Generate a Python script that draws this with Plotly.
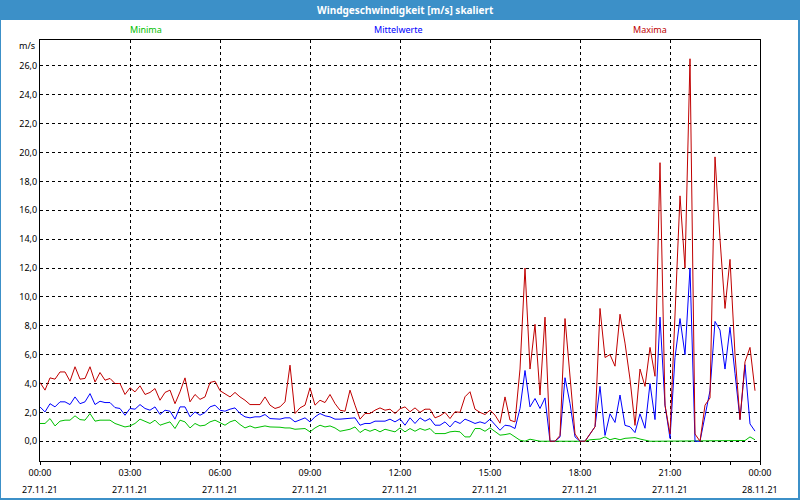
import plotly.graph_objects as go
import pandas as pd

# ---- data (10-minute values, 27.11.21 00:00 .. 23:50) ----
maxima = [
    4.07, 3.54, 4.39, 4.30, 4.80, 4.80, 4.16, 5.16, 4.30, 4.35,
    5.16, 4.10, 4.76, 4.23, 4.35, 4.00, 4.00, 3.24, 3.70, 3.42,
    3.84, 3.24, 3.38, 3.65, 2.84, 3.38, 3.54, 2.60, 3.42, 4.39,
    2.73, 3.24, 2.90, 3.07, 4.07, 4.16, 3.50, 3.30, 3.07, 3.38,
    3.07, 2.84, 2.54, 2.54, 2.54, 3.07, 2.50, 2.27, 2.38, 2.73,
    5.27, 1.92, 2.31, 2.50, 3.70, 2.50, 2.84, 2.68, 3.24, 2.61,
    2.15, 2.08, 3.54, 2.50, 1.53, 1.92, 1.92, 2.15, 2.31, 2.15,
    2.22, 1.92, 2.25, 2.38, 2.04, 2.31, 2.00, 2.22, 2.22, 1.62,
    1.76, 2.00, 1.57, 2.04, 2.00, 3.08, 3.43, 2.22, 2.00, 1.85,
    2.15, 1.81, 1.25, 3.07, 1.46, 1.34, 5.00, 12.0, 5.00, 8.10,
    3.20, 8.60, 0.00, 0.00, 0.40, 8.50, 4.60, 0.50, 0.00, 0.00,
    0.50, 1.00, 9.20, 5.80, 6.00, 5.20, 8.80, 6.80, 4.30, 1.10,
    5.00, 3.80, 6.50, 4.50, 19.3, 2.50, 0.50, 8.50, 17.0, 12.0,
    26.5, 0.50, 0.00, 2.50, 3.00, 19.7, 14.0, 9.20, 12.6, 6.00,
    1.50, 5.50, 6.50, 3.50,
]
mittel = [
    2.38, 2.03, 2.60, 2.38, 2.73, 2.73, 2.54, 3.07, 2.60, 2.73,
    3.30, 2.54, 2.77, 2.68, 2.68, 2.33, 2.27, 1.80, 2.27, 2.22,
    2.54, 2.27, 2.15, 2.38, 1.85, 2.15, 2.08, 1.53, 2.38, 2.38,
    1.69, 2.03, 1.80, 1.99, 2.38, 2.50, 2.15, 2.08, 2.22, 2.31,
    1.92, 1.69, 1.62, 1.69, 1.69, 1.85, 1.57, 1.53, 1.53, 1.62,
    1.62, 1.34, 1.46, 1.62, 1.34, 1.69, 1.92, 1.76, 1.69, 1.53,
    1.53, 1.57, 1.62, 1.62, 1.11, 1.23, 1.23, 1.39, 1.39, 1.39,
    1.53, 1.34, 1.55, 1.11, 1.62, 1.23, 1.62, 1.39, 1.57, 1.11,
    1.11, 1.34, 0.99, 1.39, 1.23, 1.53, 1.39, 1.23, 1.34, 1.23,
    1.53, 1.11, 0.76, 1.11, 1.06, 0.88, 2.27, 4.90, 2.38, 2.96,
    2.27, 3.00, 0.00, 0.00, 0.30, 4.40, 2.62, 0.30, 0.00, 0.00,
    0.50, 1.00, 3.80, 0.40, 1.90, 1.30, 3.20, 1.10, 1.00, 0.60,
    1.90, 0.90, 4.00, 1.50, 8.60, 2.50, 0.20, 5.80, 8.50, 6.00,
    12.0, 0.00, 0.00, 1.70, 3.50, 8.30, 7.70, 5.00, 7.90, 4.70,
    1.50, 5.30, 1.20, 0.70,
]
minima = [
    1.23, 1.23, 1.57, 1.06, 1.39, 1.46, 1.46, 1.76, 1.50, 1.46,
    1.92, 1.39, 1.46, 1.46, 1.46, 1.23, 1.11, 0.99, 1.06, 1.23,
    1.53, 1.39, 1.23, 1.46, 1.11, 1.23, 1.34, 0.88, 1.46, 1.34,
    0.92, 1.23, 1.06, 1.11, 1.34, 1.46, 1.30, 1.11, 1.34, 1.46,
    1.16, 0.92, 1.06, 0.92, 0.99, 1.06, 0.99, 0.99, 0.97, 0.92,
    0.92, 0.83, 0.83, 0.88, 0.65, 0.92, 1.11, 0.99, 1.06, 0.92,
    0.69, 0.76, 0.83, 0.99, 0.60, 0.83, 0.69, 0.83, 0.65, 0.83,
    0.76, 0.65, 0.92, 0.65, 0.88, 0.69, 0.88, 0.76, 0.88, 0.53,
    0.53, 0.53, 0.65, 0.69, 0.65, 0.30, 0.30, 0.88, 0.88, 0.69,
    0.93, 0.69, 0.42, 0.46, 0.53, 0.30, 0.07, 0.00, 0.14, 0.07,
    0.00, 0.00, 0.00, 0.00, 0.00, 0.00, 0.00, 0.05, 0.00, 0.00,
    0.10, 0.15, 0.15, 0.30, 0.10, 0.20, 0.10, 0.20, 0.20, 0.25,
    0.15, 0.05, 0.00, 0.00, 0.00, 0.00, 0.00, 0.00, 0.00, 0.00,
    0.00, 0.00, 0.00, 0.00, 0.00, 0.00, 0.00, 0.00, 0.00, 0.00,
    0.00, 0.05, 0.30, 0.10,
]
series_names = ["Minima", "Mittelwerte", "Maxima"]
y_ticks = [0, 2, 4, 6, 8, 10, 12, 14, 16, 18, 20, 22, 24, 26]
title_text = "Windgeschwindigkeit [m/s] skaliert"
unit_text = "m/s"

times = pd.date_range("2021-11-27 00:00", periods=len(maxima), freq="10min")
x_ticks = pd.date_range("2021-11-27 00:00", "2021-11-28 00:00", freq="3h")
x_time_labels = [t.strftime("%H:%M") for t in x_ticks]
x_date_labels = [t.strftime("%d.%m.%y") for t in x_ticks]
y_labels = [f"{v:.1f}".replace(".", ",") for v in y_ticks]

colors = {"Minima": "#00c000", "Mittelwerte": "#0000ff", "Maxima": "#c00000"}
data = {"Minima": minima, "Mittelwerte": mittel, "Maxima": maxima}

FONT = "Noto Sans"

# plot area in pixels
L, R, T, B = 40, 760, 40, 461
W, H = R - L, B - T


def px(xp):
    return (xp - L) / W


def py(yp):
    return (B - yp) / H


fig = go.Figure()
for name in series_names:
    fig.add_trace(go.Scatter(x=times, y=data[name], mode="lines", name=name,
                             line=dict(color=colors[name], width=1)))

grid = dict(showgrid=True, gridcolor="black", gridwidth=1, griddash="3px,3px",
            showline=True, linecolor="black", linewidth=1, mirror=True,
            zeroline=False)

fig.update_layout(
    width=800, height=500,
    margin=dict(l=L, r=800 - R, t=T, b=500 - B),
    paper_bgcolor="white", plot_bgcolor="white",
    showlegend=False,
    font=dict(family=FONT, size=9, color="black"),
    xaxis=dict(range=[x_ticks[0], x_ticks[-1]], tickvals=list(x_ticks), ticktext=x_time_labels,
               ticks="outside", ticklen=3, tickcolor="black",
               minor=dict(dtick=3600000, ticks="outside", ticklen=3, tickcolor="black", showgrid=False),
               tickfont=dict(family=FONT, size=9, color="black"), **grid),
    yaxis=dict(range=[-1.37, 27.8], tickvals=y_ticks, ticktext=y_labels, ticks="",
               tickfont=dict(family=FONT, size=9, color="black"), **grid),
)

shapes = [
    dict(type="rect", xref="paper", yref="paper", x0=px(0), x1=px(800), y0=py(20), y1=py(0),
         fillcolor="#3c90c8", line=dict(width=0)),
    dict(type="rect", xref="paper", yref="paper", x0=px(0), x1=px(1), y0=py(500), y1=py(0),
         fillcolor="#3c90c8", line=dict(width=0)),
    dict(type="rect", xref="paper", yref="paper", x0=px(798), x1=px(800), y0=py(500), y1=py(0),
         fillcolor="#3c90c8", line=dict(width=0)),
    dict(type="rect", xref="paper", yref="paper", x0=px(0), x1=px(800), y0=py(500), y1=py(498),
         fillcolor="#3c90c8", line=dict(width=0)),
]
fig.update_layout(shapes=shapes)

ann = [
    dict(text=f"<b>{title_text}</b>", xref="paper", yref="paper", x=px(405), y=py(10),
         showarrow=False, font=dict(family=FONT, size=10, color="white"),
         xanchor="center", yanchor="middle"),
    dict(text=unit_text, xref="paper", yref="paper", x=px(37), y=py(45), showarrow=False,
         xanchor="right", yanchor="middle", font=dict(family=FONT, size=9, color="black")),
]
legend_x = {"Minima": 146, "Mittelwerte": 398, "Maxima": 650}
for name in series_names:
    ann.append(dict(text=name, xref="paper", yref="paper", x=px(legend_x[name]), y=py(30),
                    showarrow=False, xanchor="center", yanchor="middle",
                    font=dict(family=FONT, size=9, color=colors[name])))
for t, lab in zip(x_ticks, x_date_labels):
    ann.append(dict(text=lab, xref="x", yref="paper", x=t, y=py(489), showarrow=False,
                    xanchor="center", yanchor="middle",
                    font=dict(family=FONT, size=9, color="black")))
fig.update_layout(annotations=ann)

fig.write_html(
    "out.html",
    config={"displayModeBar": False},
    post_script="document.documentElement.style.margin='0';"
                "document.body.style.margin='0';document.body.style.overflow='hidden';",
)
